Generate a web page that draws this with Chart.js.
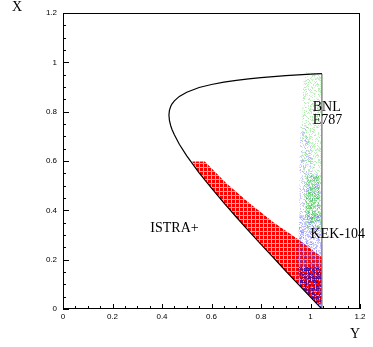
<!DOCTYPE html>
<html>
<head>
<meta charset="utf-8">
<script src="https://cdn.jsdelivr.net/npm/chart.js@4.4.1/dist/chart.umd.min.js"></script>
<style>
  html, body { margin: 0; padding: 0; background: #fff; }
  canvas { display: block; }
</style>
</head>
<body>
<canvas id="myChart" width="373" height="347"></canvas>
<script>
// horizontal axis is "Y", vertical axis is "X"
// kinematic boundary
const curveY = [1.046, 1.0, 0.95, 0.9, 0.85, 0.8, 0.75, 0.7, 0.65, 0.6, 0.55, 0.5, 0.47, 0.45, 0.44, 0.435, 0.43, 0.428,
  0.43, 0.435, 0.44, 0.45, 0.47, 0.5, 0.55, 0.6, 0.65, 0.7, 0.75, 0.8, 0.85, 0.9, 0.95, 1.0, 1.046];
const curveX = [0, 0.048, 0.101, 0.154, 0.208, 0.262, 0.317, 0.373, 0.430, 0.490, 0.552, 0.621, 0.668, 0.706, 0.729, 0.744, 0.765, 0.786,
  0.805, 0.821, 0.831, 0.844, 0.862, 0.879, 0.898, 0.910, 0.920, 0.927, 0.933, 0.938, 0.942, 0.946, 0.949, 0.952, 0.954];
const edgeY = [1.046, 1.046];
const edgeX = [0.954, 0];

// ISTRA+ region (red band)
const istraY = [0.522, 0.55, 0.6, 0.65, 0.7, 0.75, 0.8, 0.85, 0.9, 0.95, 1.0, 1.02, 1.046, 1.046, 0.957, 0.85, 0.75, 0.66, 0.573, 0.522];
const istraX = [0.598, 0.552, 0.490, 0.430, 0.373, 0.317, 0.262, 0.208, 0.154, 0.101, 0.048, 0.025, 0.02, 0.21, 0.278, 0.352, 0.432, 0.510, 0.598, 0.598];

// KEK-104 region (blue): sparse, middle and dense parts
const kekY = [0.960, 0.990, 1.010, 1.044, 1.044, 1.040, 0.945, 0.935, 0.950, 0.955, 0.955, 0.960];
const kekX = [0.74, 0.74, 0.60, 0.50, 0.0, 0.005, 0.11, 0.16, 0.25, 0.40, 0.58, 0.74];
const kekMidY = [0.955, 1.044, 1.044, 0.945, 0.955];
const kekMidX = [0.38, 0.38, 0.15, 0.15, 0.38];
const kekCoreY = [0.950, 1.044, 1.044, 1.030, 0.960, 0.950];
const kekCoreX = [0.17, 0.17, 0.0, 0.015, 0.09, 0.17];

// BNL E787 region (green)
const bnlY = [0.975, 1.044, 1.044, 0.985, 0.970, 0.965, 0.970, 0.975];
const bnlX = [0.96, 0.955, 0.32, 0.32, 0.45, 0.70, 0.90, 0.96];
const bnlCoreY = [0.985, 1.035, 1.040, 0.990, 0.980, 0.985];
const bnlCoreX = [0.54, 0.54, 0.36, 0.34, 0.42, 0.54];

const xTicks = [0, 0.2, 0.4, 0.6, 0.8, 1, 1.2];
const xTickLabels = ['0', '0.2', '0.4', '0.6', '0.8', '1', '1.2'];
const yTicks = [0, 0.2, 0.4, 0.6, 0.8, 1, 1.2];
const yTickLabels = ['0', '0.2', '0.4', '0.6', '0.8', '1', '1.2'];

const textLabels = ['ISTRA+', 'BNL', 'E787', 'KEK-104'];
const textY = [0.353, 1.009, 1.009, 1.0];
const textX = [0.312, 0.804, 0.750, 0.287];

function pts(ys, xs) {
  return ys.map((v, i) => ({ x: v, y: xs[i] }));
}

// red lattice texture
function latticePattern() {
  const c = document.createElement('canvas');
  c.width = 4; c.height = 4;
  const g = c.getContext('2d');
  g.fillStyle = 'rgb(255,0,0)';
  g.fillRect(0, 0, 4, 4);
  g.fillStyle = 'rgb(255,175,175)';
  g.fillRect(3, 0, 1, 4);
  g.fillRect(0, 3, 4, 1);
  return g.createPattern(c, 'repeat');
}

function hash(i, j, s) {
  let n = Math.imul(i, 374761393) + Math.imul(j, 668265263) + Math.imul(s, 982451653);
  n = Math.imul(n ^ (n >>> 13), 1274126177);
  n = n ^ (n >>> 16);
  return (n >>> 0) / 4294967296;
}

// speckle texture for the scattered events
function speckle(r, gr, b, density, alpha, seed) {
  const w = 67, h = 71;
  const c = document.createElement('canvas');
  c.width = w; c.height = h;
  const g = c.getContext('2d');
  for (let i = 0; i < w; i++) {
    for (let j = 0; j < h; j++) {
      if (hash(i, j, seed) < density) {
        const a = alpha * (0.4 + 0.6 * hash(j, i, seed + 7));
        g.fillStyle = 'rgba(' + r + ',' + gr + ',' + b + ',' + a.toFixed(2) + ')';
        g.fillRect(i, j, 1, 1);
      }
    }
  }
  return g.createPattern(c, 'repeat');
}

const ctx = document.getElementById('myChart').getContext('2d');

function area(data, fillStyle, order) {
  return {
    data: data, showLine: true, fill: 'shape', backgroundColor: fillStyle,
    borderWidth: 0, borderColor: 'rgba(0,0,0,0)', pointRadius: 0, order: order
  };
}

const decor = {
  id: 'decor',
  afterDraw(chart) {
    const g = chart.ctx;
    const xs = chart.scales.x, ys = chart.scales.y;
    const a = chart.chartArea;
    g.save();
    g.strokeStyle = '#000';
    g.lineWidth = 1;
    g.strokeRect(Math.round(a.left) + 0.5, Math.round(a.top) + 0.5,
      Math.round(a.right - a.left) - 1, Math.round(a.bottom - a.top) - 1);

    // ticks, inward
    g.beginPath();
    for (let v = 0; v <= 1.2001; v += 0.05) {
      const major = Math.abs(v / 0.2 - Math.round(v / 0.2)) < 1e-6;
      const px = Math.round(xs.getPixelForValue(v)) + 0.5;
      g.moveTo(px, a.bottom);
      g.lineTo(px, a.bottom - (major ? 5 : 3));
      const py = Math.round(ys.getPixelForValue(v)) + 0.5;
      g.moveTo(a.left, py);
      g.lineTo(a.left + (major ? 6 : 3), py);
    }
    g.stroke();

    g.fillStyle = '#000';
    g.font = '8px "Liberation Sans", Arial, sans-serif';
    g.textAlign = 'center';
    g.textBaseline = 'top';
    xTicks.forEach((v, i) => g.fillText(xTickLabels[i], xs.getPixelForValue(v), a.bottom + 4));
    g.textAlign = 'right';
    g.textBaseline = 'middle';
    yTicks.forEach((v, i) => g.fillText(yTickLabels[i], a.left - 6, ys.getPixelForValue(v)));

    g.font = '14px "Liberation Serif", "Times New Roman", serif';
    g.textAlign = 'left';
    g.textBaseline = 'alphabetic';
    g.fillText('X', 12, 11);
    g.fillText('Y', 350, 338);
    textLabels.forEach((t, i) => g.fillText(t, xs.getPixelForValue(textY[i]), ys.getPixelForValue(textX[i])));
    g.restore();
  }
};

const myChart = new Chart(ctx, {
  type: 'scatter',
  data: {
    datasets: [
      { data: pts(curveY, curveX), showLine: true, borderColor: '#000', borderWidth: 1.2,
        pointRadius: 0, fill: false, order: 0 },
      { data: pts(edgeY, edgeX), showLine: true, borderColor: '#777', borderWidth: 1.3,
        pointRadius: 0, fill: false, order: 0 },
      area(pts(kekCoreY, kekCoreX), speckle(20, 10, 190, 0.7, 0.9, 1), 1),
      area(pts(kekMidY, kekMidX), speckle(80, 80, 255, 0.35, 0.5, 2), 2),
      area(pts(bnlCoreY, bnlCoreX), speckle(30, 190, 50, 0.5, 0.65, 3), 3),
      area(pts(bnlY, bnlX), speckle(80, 215, 80, 0.3, 0.5, 4), 4),
      area(pts(kekY, kekX), speckle(100, 100, 255, 0.3, 0.45, 5), 5),
      area(pts(istraY, istraX), latticePattern(), 6)
    ]
  },
  options: {
    responsive: false,
    animation: false,
    devicePixelRatio: 1,
    layout: { padding: { left: 63, right: 13, top: 13, bottom: 38 } },
    plugins: { legend: { display: false }, tooltip: { enabled: false } },
    scales: {
      x: { type: 'linear', min: 0, max: 1.2, display: false },
      y: { type: 'linear', min: 0, max: 1.2, display: false }
    }
  },
  plugins: [decor]
});
</script>
</body>
</html>
